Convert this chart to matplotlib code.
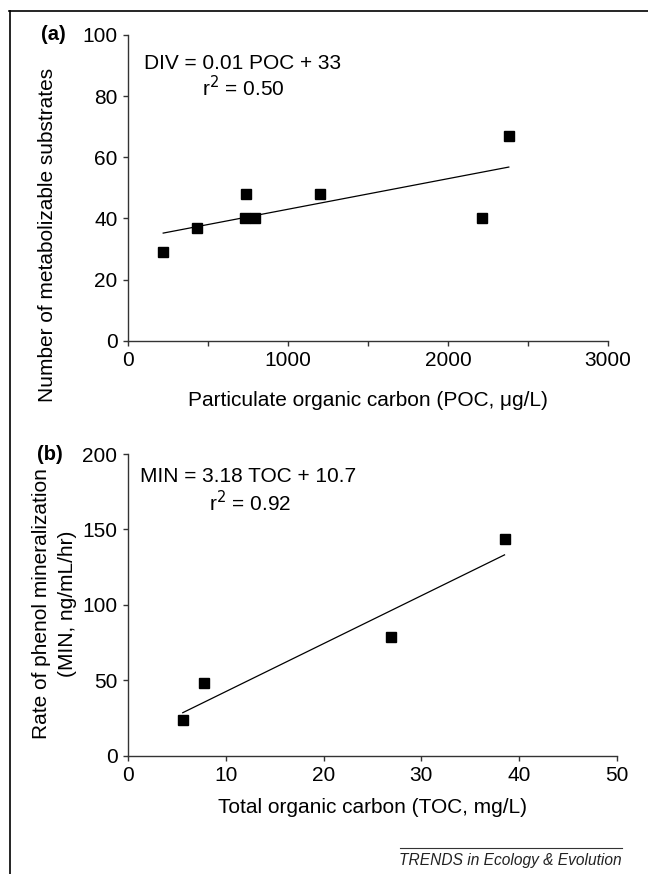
"""Two scatter panels with regression lines (POC vs DIV, TOC vs MIN)."""

import matplotlib

matplotlib.use("Agg")
import matplotlib.pyplot as plt
from matplotlib.lines import Line2D
import numpy as np

# (a) diversity vs particulate organic carbon
poc = [220, 434, 739, 731, 796, 1199, 2212, 2380]
div = [29, 37, 48, 40, 40, 48, 40, 67]
div_slope, div_icpt = 0.01, 33
# (b) phenol mineralization vs total organic carbon
toc = [5.6, 7.8, 26.9, 38.5]
mineral = [23.5, 48.5, 78.5, 143.5]
min_slope, min_icpt = 3.18, 10.7

plt.rcParams["font.family"] = ["Liberation Sans", "DejaVu Sans"]
plt.rcParams["font.size"] = 15

W, H = 648, 874
fig = plt.figure(figsize=(W / 100, H / 100), dpi=100)


def _style(ax):
    for side in ("top", "right"):
        ax.spines[side].set_visible(False)
    for side in ("left", "bottom"):
        ax.spines[side].set_linewidth(1.0)
        ax.spines[side].set_color("#333333")
    ax.tick_params(direction="out", length=3.6, width=1.0, color="#333333", pad=4, labelsize=15)


def _panel(rect, x, y, slope, icpt, xlim, xticks, ylim, yticks):
    ax = fig.add_axes(rect)
    _style(ax)
    ax.plot(x, y, ls="none", marker="s", ms=6.5, color="black", zorder=3)
    xx = np.array([min(x), max(x)])
    ax.plot(xx, slope * xx + icpt, color="black", lw=0.9)
    ax.set_xlim(*xlim)
    ax.set_ylim(*ylim)
    ax.set_xticks(xticks)
    ax.set_yticks(yticks)
    return ax


# pixel boxes -> figure fractions
def _rect(l, r, t, b):
    return [l / W, 1 - b / H, (r - l) / W, (b - t) / H]


ax_a = _panel(_rect(128, 608, 35, 340.7), poc, div, div_slope, div_icpt,
              (0, 3000), np.arange(0, 3001, 500), (0, 100), np.arange(0, 101, 20))
ax_a.set_xticklabels(["0", "", "1000", "", "2000", "", "3000"])
ax_a.set_xlabel("Particulate organic carbon (POC, \u03bcg/L)", va="center")
ax_a.xaxis.set_label_coords(0.5, -0.194)
ax_a.set_ylabel("Number of metabolizable substrates", va="center")
ax_a.yaxis.set_label_coords(-0.167, 0.346)
ax_a.text(0.033, 0.908, "DIV = 0.01 POC + 33", transform=ax_a.transAxes, va="center")
ax_a.text(0.154, 0.827, "r$^2$ = 0.50", transform=ax_a.transAxes, va="center")

ax_b = _panel(_rect(128, 617, 454, 755.7), toc, mineral, min_slope, min_icpt,
              (0, 50), np.arange(0, 51, 10), (0, 200), np.arange(0, 201, 50))
ax_b.set_xlabel("Total organic carbon (TOC, mg/L)", va="center")
ax_b.xaxis.set_label_coords(0.5, -0.173)
ax_b.set_ylabel("Rate of phenol mineralization\n(MIN, ng/mL/hr)", va="center",
                linespacing=1.45)
ax_b.yaxis.set_label_coords(-0.150, 0.503)
ax_b.text(0.0245, 0.924, "MIN = 3.18 TOC + 10.7", transform=ax_b.transAxes, va="center")
ax_b.text(0.166, 0.838, "r$^2$ = 0.92", transform=ax_b.transAxes, va="center")

# panel letters
fig.text(53 / W, 1 - 35 / H, "(a)", fontweight="bold", fontsize=14.5, ha="center", va="center")
fig.text(50 / W, 1 - 454 / H, "(b)", fontweight="bold", fontsize=14.5, ha="center", va="center")

# outer frame (top + left only)
fig.add_artist(Line2D([9 / W, 1], [1 - 10.5 / H] * 2, color="black", lw=1.2))
fig.add_artist(Line2D([9.5 / W] * 2, [0, 1 - 10.5 / H], color="black", lw=1.2))

# journal footer
fig.add_artist(Line2D([400 / W, 622 / W], [1 - 848 / H] * 2, color="#333333", lw=0.8))
fig.text(622 / W, 1 - 860 / H, "TRENDS in Ecology & Evolution", style="italic",
         fontsize=11.2, ha="right", va="center", color="#222222")

fig.savefig("out.png", dpi=100)
